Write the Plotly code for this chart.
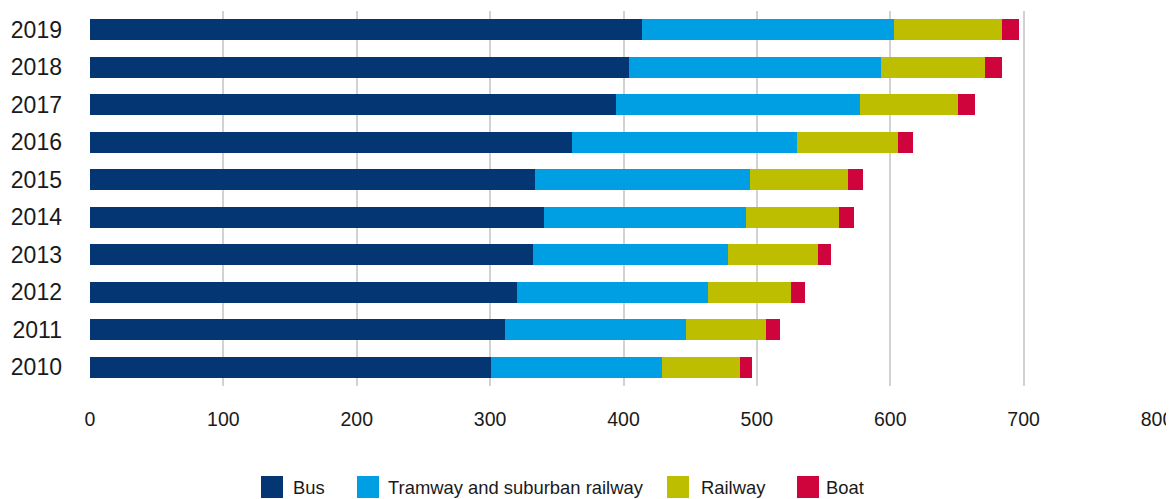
import plotly.graph_objects as go

years = ["2019", "2018", "2017", "2016", "2015", "2014", "2013", "2012", "2011", "2010"]
bus = [414, 404, 394, 361.5, 334, 340.5, 332, 320, 311, 301]
tram = [189, 189, 183, 168.5, 160.5, 151.5, 146.5, 143.5, 136, 127.5]
railway = [81, 78, 74, 75.5, 74, 69.5, 67.5, 62, 60, 59]
boat = [12.75, 12.75, 12.75, 11.25, 11.25, 11.25, 9.75, 10.5, 10.5, 9]
x_ticks = [0, 100, 200, 300, 400, 500, 600, 700, 800]

series = [
    ("Bus", bus, "#043673"),
    ("Tramway and suburban railway", tram, "#009FE3"),
    ("Railway", railway, "#BDBE00"),
    ("Boat", boat, "#D0043C"),
]

FONT = "Liberation Sans, Arial, Helvetica, sans-serif"

fig = go.Figure()
for name, vals, col in series:
    fig.add_trace(go.Bar(y=years, x=vals, name=name, orientation="h",
                         marker=dict(color=col, line=dict(width=0)),
                         showlegend=False))

# page has an 8px body margin; size the figure so the plot lands where the reference has it
OFF = 8
W, H = 1174 - OFF, 499 - OFF
ml, mr, mt, mb = 90 - OFF, 17, 11 - OFF, 113
pw, ph = W - ml - mr, H - mt - mb

def px2paper(px, py):
    px -= OFF
    py -= OFF
    return (px - ml) / pw, (H - mb - py) / ph

# manual legend (large square swatches)
legend_items = [(261, 291), (357, 386), (667, 699), (797, 824)]
for (sq_x, tx_x), (name, _, col) in zip(legend_items, series):
    x0, y0 = px2paper(sq_x, 498)
    x1, y1 = px2paper(sq_x + 22, 476)
    fig.add_shape(type="rect", xref="paper", yref="paper", x0=x0, x1=x1, y0=y0, y1=y1,
                  fillcolor=col, line=dict(width=0))
    ax, ay = px2paper(tx_x, 487)
    fig.add_annotation(xref="paper", yref="paper", x=ax, y=ay, text=name, showarrow=False,
                       xanchor="left", yanchor="middle",
                       font=dict(family=FONT, size=18.4, color="#1a1a1a"))

fig.update_layout(
    width=W, height=H,
    barmode="stack",
    bargap=0.44,
    margin=dict(l=ml, r=mr, t=mt, b=mb, autoexpand=False),
    plot_bgcolor="white", paper_bgcolor="white",
    font=dict(family=FONT, size=19, color="#1a1a1a"),
    xaxis=dict(range=[0, 800], tickvals=x_ticks, showgrid=True, gridcolor="#d2d2d2",
               gridwidth=1.5, zeroline=False, showline=False, ticks="", automargin=False,
               ticklabelstandoff=19, tickfont=dict(size=19.5)),
    yaxis=dict(categoryorder="array", categoryarray=years[::-1], showgrid=False,
               ticks="", ticklabelstandoff=27, automargin=False,
               tickfont=dict(size=23)),
)

fig.write_html("out.html")
